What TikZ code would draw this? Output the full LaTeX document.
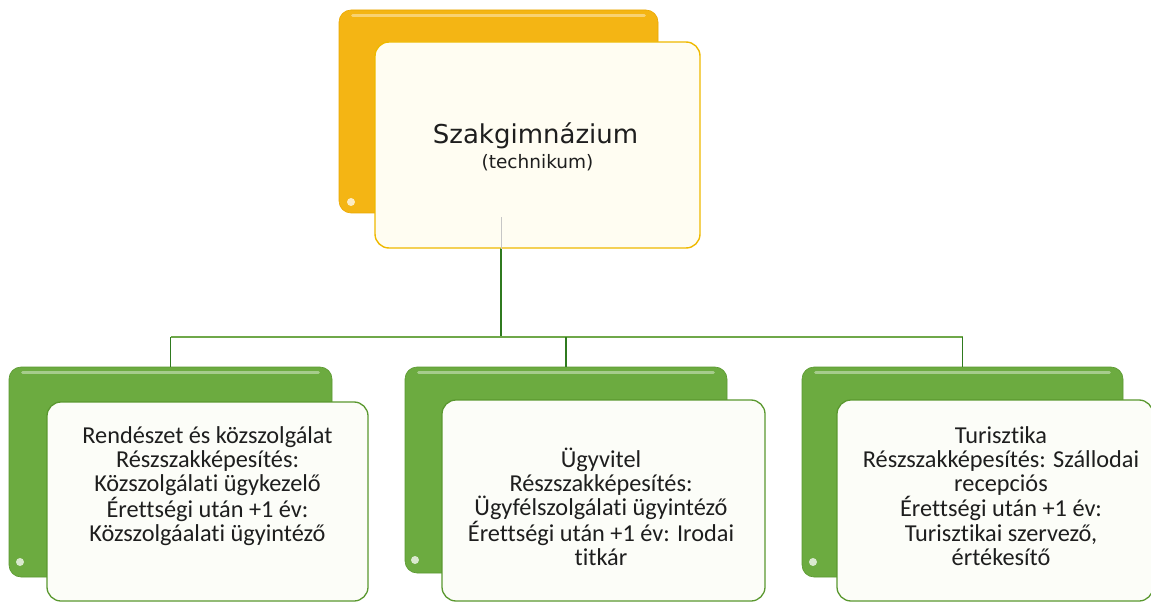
\documentclass[tikz,border=0pt]{standalone}
\usepackage{fontspec}
\setmainfont{Carlito}[Ligatures=NoCommon]
\newfontfamily\titlefont{DejaVu Sans}
\usetikzlibrary{calc}
\definecolor{ymid}{HTML}{F4B514}
\definecolor{yedge}{HTML}{EBA800}
\definecolor{gmid}{HTML}{6CAB40}
\definecolor{gedge}{HTML}{5A982F}
\definecolor{yfill}{HTML}{FFFDF2}
\definecolor{gfill}{HTML}{FCFDF8}
\definecolor{connv}{HTML}{2F7A1F}
\definecolor{connh}{HTML}{6FA84A}
\definecolor{txt}{HTML}{1E1E1E}
\tikzset{
  backbox/.style={rectangle, rounded corners=12pt, inner sep=0pt, line width=0.6pt},
  backY/.style={backbox, draw=yedge, fill=ymid},
  backG/.style={backbox, draw=gedge, fill=gmid},
  frontY/.style={rectangle, rounded corners=14pt, inner sep=0pt, draw=yedge!80!yellow, fill=yfill, line width=1.4pt},
  frontG/.style={rectangle, rounded corners=14pt, inner sep=0pt, draw=gedge, fill=gfill, line width=1.3pt},
  childtext/.style={anchor=north, inner sep=0pt, align=center, text=txt,
    font=\fontsize{24.3}{24.2}\selectfont},
  connV/.style={draw=connv, line width=1.6pt},
  connH/.style={draw=connh, line width=2pt},
  gloss/.style={fill=white, opacity=0.75},
  shine/.style={line width=3pt, line cap=round, draw=white, opacity=0.4}
}
\begin{document}
\begin{tikzpicture}[x=1pt,y=-1pt]
\useasboundingbox (0,0) rectangle (1151,604);
\fill[white] (0,0) rectangle (1151,604);

% top box
\node[backY, minimum width=319pt, minimum height=203pt] (tb) at (498.5,111.5) {};
\draw[shine] ($(tb.north west)+(14,6)$) -- ($(tb.north east)+(-14,6)$);
\fill[gloss] (351,202) circle (4);
\coordinate (tbot) at ($(tb.south)+(2.5,0)$);
\coordinate (hub) at (501,337);
\draw[connV] (tbot) -- (hub);
\node[frontY, minimum width=325pt, minimum height=206pt] (tf) at (537.5,145) {};
\draw[gray!45, line width=0.6pt] ($(tbot)+(0,4)$) -- (tbot |- tf.south);
\node[anchor=base, inner sep=0pt, text=txt, font=\titlefont\fontsize{26}{30}\selectfont] (title) at (535.5,144) {Szakgimnázium};
\node[anchor=base, inner sep=0pt, text=txt, font=\titlefont\fontsize{18.5}{22}\selectfont] (sub) at (537.5,169) {(technikum)};

% back boxes of children
\node[backG, minimum width=323pt, minimum height=210pt] (lb) at (170.5,472) {};
\node[backG, minimum width=322pt, minimum height=206pt] (mb) at (566,470) {};
\node[backG, minimum width=321pt, minimum height=210pt] (rb) at (962.5,472) {};
\foreach \b in {lb,mb,rb}{
  \draw[shine] ($(\b.north west)+(14,6)$) -- ($(\b.north east)+(-14,6)$);
}
\fill[gloss] (20,562) circle (4);
\fill[gloss] (415,560) circle (4);
\fill[gloss] (813,562) circle (4);

% connectors
\draw[connH] (lb.north |- hub) -- (rb.north |- hub);
\draw[connV] (lb.north |- hub) -- (lb.north);
\draw[connV] (mb.north |- hub) -- (mb.north);
\draw[connV] (rb.north |- hub) -- (rb.north);

% front boxes of children
\node[frontG, minimum width=321pt, minimum height=199pt] (lf) at (207.5,501.5) {};
\node[frontG, minimum width=323pt, minimum height=201pt] (mf) at (603.5,500.5) {};
\node[frontG, minimum width=316pt, minimum height=201pt] (rf) at (995,500.5) {};

\node[childtext] (lt) at (207.5,423) {\rule{0pt}{20pt}Rendészet és közszolgálat\\Részszakképesítés:\\Közszolgálati ügykezelő\\Érettségi után +1 év:\\Közszolgáalati ügyintéző};
\node[childtext] (mt) at (601,447) {\rule{0pt}{20pt}Ügyvitel\\Részszakképesítés:\\Ügyfélszolgálati ügyintéző\\Érettségi után +1 év: Irodai\\titkár};
\node[childtext] (rt) at (1001,423) {\rule{0pt}{20pt}Turisztika\\Részszakképesítés: Szállodai\\recepciós\\Érettségi után +1 év:\\Turisztikai szervező,\\értékesítő};
\end{tikzpicture}
\end{document}
